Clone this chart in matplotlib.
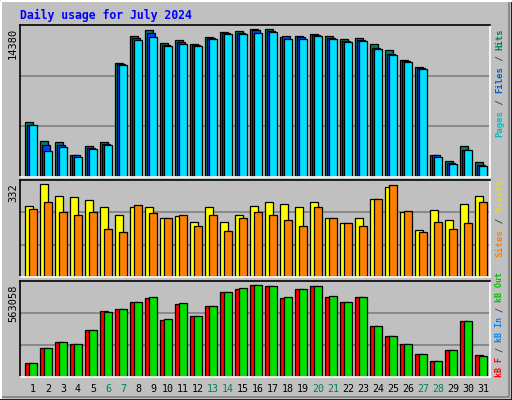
import matplotlib
matplotlib.use("Agg")
import matplotlib.pyplot as plt
import numpy as np
from matplotlib.patches import Rectangle

days = list(range(1, 32))
weekend = [6, 7, 13, 14, 20, 21, 27, 28]
hits = [5310,3455,3357,2186,2967,3357,11068,13703,14289,13020,13313,12922,13605,14093,14191,14380,
        14380,13605,13703,13898,13703,13410,13508,12922,12337,11361,10677,2186,1601,2967,1503]
files = [5100,3063,3063,2090,2770,3160,10970,13500,14000,12820,13110,12820,13500,13990,13990,14280,
         14190,13700,13600,13800,13500,13210,13310,12530,11940,11260,10580,2090,1400,2670,1210]
pages = [5015,2478,2868,1990,2673,3063,10868,13307,13600,12722,12917,12722,13405,13893,13893,13990,
         14088,13405,13405,13697,13405,13112,13210,12429,11844,11161,10478,1990,1307,2576,1112]
visits = [252,332,288,285,274,249,220,249,249,209,216,198,249,198,223,252,267,259,249,267,209,191,212,278,321,231,169,238,205,259,288]
sites = [241,267,231,223,231,173,162,256,227,212,220,183,223,165,209,231,220,205,183,249,209,194,183,278,328,234,162,198,173,191,267]
kbf = [86310,178785,215775,203445,289755,406890,419220,456210,480870,351405,443880,376065,431550,517860,536355,563058,
       554850,480870,536355,554850,487035,456210,487035,314415,252765,203445,141795,98640,166455,345240,135630]
kbout = [86310,178785,215775,203445,289755,400725,419220,456210,487035,357570,450045,376065,431550,517860,542520,563058,
         554850,487035,536355,554850,493200,456210,487035,314415,252765,203445,141795,98640,166455,345240,129465]

W, H = 512, 400
fig = plt.figure(figsize=(5.12, 4.0), dpi=100)
fig.patch.set_facecolor("#C0C0C0")
mono = "DejaVu Sans Mono"

def px(x0, y0, x1, y1):
    return [x0 / W, 1 - y1 / H, (x1 - x0) / W, (y1 - y0) / H]

bg = fig.add_axes([0, 0, 1, 1]); bg.set_axis_off(); bg.set_xlim(0, W); bg.set_ylim(H, 0)
bg.plot([1, 1, W - 1], [H - 2, 1, 1], color="white", lw=1.5)
bg.add_patch(Rectangle((0.5, 0.5), W - 1, H - 1, fill=False, ec="black", lw=1.2))
bg.plot([3, W - 3, W - 3], [H - 3, H - 3, 3], color="#808080", lw=1.2)

def panel(y0, y1, series, offsets, widths, colors, vmax, maxlabel):
    ax = fig.add_axes(px(20, y0, 490, y1))
    ax.set_facecolor("#C0C0C0")
    ax.set_xlim(0, 470 / 15)
    ax.set_ylim(0, vmax * (y1 - y0) / (y1 - y0 - 4))
    for f in (1 / 3, 2 / 3):
        ax.axhline(ax.get_ylim()[1] * f, color="#808080", lw=1.2, zorder=0)
    for s, off, w, c in zip(series, offsets, widths, colors):
        x = np.arange(len(s)) + off
        ax.bar(x, s, width=w, align="edge", color=c, edgecolor="black", linewidth=0.9, zorder=2)
    for side, col in (("top", "black"), ("left", "black"), ("bottom", "white"), ("right", "white")):
        ax.spines[side].set_color(col); ax.spines[side].set_linewidth(1.2)
    ax.set_xticks([]); ax.set_yticks([])
    fig.text(18 / W, 1 - (y0 + 3) / H, maxlabel, rotation=90, ha="right", va="top",
             family=mono, fontsize=7.5)
    return ax

panel(25, 177, [hits, files, pages], [1/3, 1/3 + 2/15, 1/3 + 4/15], [0.5, 0.5, 0.5],
      ["#00805C", "#0040FF", "#00E0FF"], 14380, "14380")
panel(180, 277, [visits, sites], [1/3, 1/3 + 4/15], [0.55, 0.5], ["#FFFF00", "#FF8000"], 332, "332")
panel(281, 377, [kbf, kbout], [1/3, 1/3 + 4/15], [0.5, 0.5], ["#FF0000", "#00E000"], 563058, "563058")

fig.text(20 / W, 1 - 15 / H, "Daily usage for July 2024", family=mono, fontweight="bold",
         fontsize=8.3, color="#0000FF", va="center")

def rlabel(parts, ytop, ybot):
    total = sum(len(t) for t, _ in parts)
    cw = (ybot - ytop) / total
    fs = min(7, cw / 0.602 * 72 / 100)
    y = ybot
    for t, c in parts:
        fig.text(500 / W, 1 - y / H, t, rotation=90, ha="center", va="bottom", family=mono,
                 fontweight="bold", fontsize=fs, color=c)
        y -= len(t) * cw

rlabel([("Pages", "#00C0C0"), (" / ", "#404040"), ("Files", "#0060C0"), (" / ", "#404040"), ("Hits", "#00805C")], 28, 137)
rlabel([("Sites", "#FF8000"), (" / ", "#404040"), ("Visits", "#E0E000")], 178, 257)
rlabel([("kB F", "#FF0000"), (" / ", "#404040"), ("kB In", "#0080FF"), (" / ", "#404040"), ("kB Out", "#00C000")], 272, 377)

for d in days:
    fig.text((20 + 15 * (d - 1) + 13) / W, 1 - 389 / H, str(d), ha="center", va="center",
             family=mono, fontsize=7.2, color="#00805C" if d in weekend else "black")

fig.savefig("out.png", dpi=100, facecolor=fig.get_facecolor())
